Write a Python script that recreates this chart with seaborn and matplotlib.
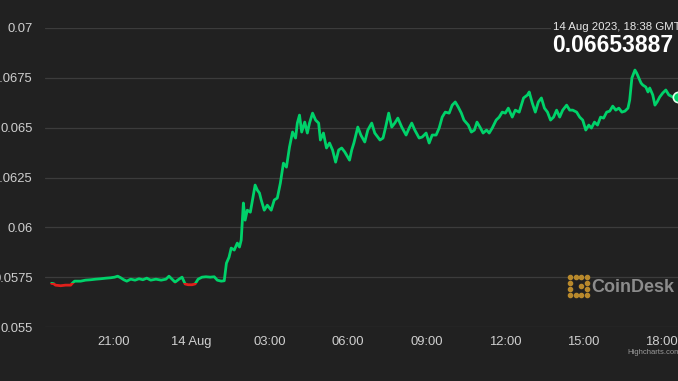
import numpy as np
import pandas as pd
import seaborn as sns
import matplotlib.pyplot as plt
import matplotlib.transforms as mtransforms
from matplotlib.patches import Rectangle

# minutes after 13 Aug 2023 18:38 (GMT+1) and price
minutes = [0, 5, 9, 21, 32, 44, 48, 53, 67, 78, 90, 102, 113, 125, 136, 145, 152, 159, 166, 173,
           182, 192, 201, 210, 219, 228, 240, 252, 263, 270, 277, 284, 293, 300, 307, 314, 323, 330,
           337, 346, 355, 365, 374, 381, 390, 397, 402, 408, 413, 420, 427, 432, 436, 441, 445, 450,
           457, 464, 468, 473, 478, 482, 489, 496, 505, 512, 519, 526, 533, 540, 547, 554, 561, 565,
           570, 575, 582, 588, 593, 600, 607, 614, 618, 625, 632, 639, 646, 653, 660, 667, 674, 685,
           690, 695, 704, 711, 720, 727, 736, 743, 755, 762, 768, 775, 782, 789, 796, 805, 815, 822,
           828, 835, 845, 852, 861, 868, 875, 884, 891, 898, 905, 914, 921, 928, 935, 942, 948, 958,
           965, 972, 978, 986, 992, 1000, 1006, 1013, 1022, 1029, 1036, 1043, 1050, 1059, 1066, 1075,
           1085, 1094, 1098, 1105, 1112, 1119, 1126, 1133, 1140, 1147, 1154, 1161, 1168, 1175, 1184,
           1191, 1198, 1207, 1214, 1221, 1228, 1235, 1241, 1248, 1255, 1262, 1269, 1276, 1283, 1290,
           1297, 1304, 1311, 1318, 1325, 1329, 1334, 1341, 1345, 1350, 1355, 1359, 1366, 1371, 1375,
           1382, 1387, 1392, 1398, 1405, 1412, 1419, 1428, 1440]
price = [0.05719, 0.05717, 0.05710, 0.05707, 0.05710, 0.05710, 0.05720, 0.05730, 0.05730, 0.05735,
         0.05737, 0.05740, 0.05742, 0.05745, 0.05747, 0.05750, 0.05755, 0.05747, 0.05737, 0.05730,
         0.05740, 0.05735, 0.05742, 0.05737, 0.05745, 0.05735, 0.05740, 0.05735, 0.05740, 0.05755,
         0.05740, 0.05725, 0.05740, 0.05750, 0.05716, 0.05712, 0.05712, 0.05716, 0.05740, 0.05750,
         0.05752, 0.05750, 0.05752, 0.05735, 0.05730, 0.05732, 0.05820, 0.05850, 0.05896, 0.05886,
         0.05921, 0.05901, 0.05936, 0.06122, 0.06036, 0.06086, 0.06076, 0.06162, 0.06212, 0.06187,
         0.06172, 0.06137, 0.06086, 0.06111, 0.06086, 0.06137, 0.06147, 0.06222, 0.06322, 0.06302,
         0.06403, 0.06478, 0.06448, 0.06523, 0.06563, 0.06478, 0.06528, 0.06473, 0.06523, 0.06573,
         0.06538, 0.06523, 0.06438, 0.06473, 0.06398, 0.06423, 0.06388, 0.06327, 0.06388, 0.06398,
         0.06378, 0.06337, 0.06388, 0.06423, 0.06503, 0.06463, 0.06428, 0.06488, 0.06523, 0.06473,
         0.06438, 0.06448, 0.06503, 0.06573, 0.06503, 0.06523, 0.06548, 0.06503, 0.06463, 0.06498,
         0.06523, 0.06488, 0.06448, 0.06453, 0.06473, 0.06423, 0.06463, 0.06463, 0.06498, 0.06553,
         0.06578, 0.06573, 0.06613, 0.06629, 0.06603, 0.06573, 0.06538, 0.06513, 0.06478, 0.06488,
         0.06528, 0.06498, 0.06473, 0.06488, 0.06473, 0.06498, 0.06538, 0.06553, 0.06578, 0.06573,
         0.06598, 0.06553, 0.06588, 0.06578, 0.06649, 0.06664, 0.06679, 0.06624, 0.06578, 0.06629,
         0.06649, 0.06598, 0.06578, 0.06538, 0.06553, 0.06588, 0.06553, 0.06588, 0.06613, 0.06588,
         0.06588, 0.06578, 0.06553, 0.06538, 0.06488, 0.06513, 0.06498, 0.06528, 0.06513, 0.06553,
         0.06548, 0.06578, 0.06583, 0.06608, 0.06588, 0.06598, 0.06578, 0.06583, 0.06598, 0.06639,
         0.06749, 0.06789, 0.06774, 0.06749, 0.06724, 0.06714, 0.06704, 0.06679, 0.06699, 0.06664,
         0.06613, 0.06629, 0.06654, 0.06674, 0.06689, 0.06664, 0.06654, 0.06653887]

start = pd.Timestamp("2023-08-13 18:38")
tick_times = ["2023-08-13 21:00", "2023-08-14 00:00", "2023-08-14 03:00", "2023-08-14 06:00",
              "2023-08-14 09:00", "2023-08-14 12:00", "2023-08-14 15:00", "2023-08-14 18:00"]
tick_labels = ["21:00", "14 Aug", "03:00", "06:00", "09:00", "12:00", "15:00", "18:00"]
y_ticks = [0.055, 0.0575, 0.06, 0.0625, 0.065, 0.0675, 0.07]

df = pd.DataFrame({"time": start + pd.to_timedelta(minutes, unit="m"), "price": price})

bg = "#212121"
green = "#00d26a"
red = "#e0201b"

sns.set_style("dark")
plt.rcParams["font.family"] = ["Liberation Sans", "DejaVu Sans"]

fig = plt.figure(figsize=(6.78, 3.81), dpi=100, facecolor=bg)
ax = fig.add_axes([45 / 678, 54 / 381, 633 / 678, 299 / 381])
ax.set_facecolor(bg)

threshold = price[0]
blend = mtransforms.blended_transform_factory(ax.transAxes, ax.transData)

# green above the opening price, red below it
sns.lineplot(data=df, x="time", y="price", ax=ax, color=green, lw=2.0)
ln = ax.lines[-1]
ln.set_clip_path(Rectangle((0, threshold), 1, 1, transform=blend))
sns.lineplot(data=df, x="time", y="price", ax=ax, color=red, lw=2.0)
ln = ax.lines[-1]
ln.set_clip_path(Rectangle((0, threshold - 1), 1, 1, transform=blend))

# last point marker
ax.scatter([df["time"].iloc[-1]], [price[-1]], s=55, facecolor=green, edgecolor="#dfffe9",
           linewidth=1.2, zorder=5, clip_on=False)

ax.set_ylim(0.055, 0.07)
ax.set_xlim(start - pd.Timedelta(minutes=15), start + pd.Timedelta(minutes=1440))
ax.set_yticks(y_ticks)
ax.set_yticklabels([f"{v:g}" for v in y_ticks])
ax.set_xticks(pd.to_datetime(tick_times))
ax.set_xticklabels(tick_labels)
ax.tick_params(axis="both", length=0, colors="#cfcfcf", labelsize=9.4)
ax.tick_params(axis="y", pad=9)
ax.tick_params(axis="x", pad=6.5)
ax.grid(axis="y", color="#3c3c3c", lw=0.9)
ax.grid(axis="x", visible=False)
for s in ax.spines.values():
    s.set_visible(False)
ax.set_xlabel("")
ax.set_ylabel("")

# header with last value
fig.text(553 / 678, 1 - 27 / 381, "14 Aug 2023, 18:38 GMT+1", color="#e8e8e8", fontsize=8.2,
         va="center", ha="left", bbox=dict(facecolor=bg, edgecolor="none", pad=1.5))
fig.text(552 / 678, 1 - 46 / 381, f"{price[-1]:.8f}", color="white", fontsize=16.5,
         fontweight="bold", va="center", ha="left")

# CoinDesk watermark
icon = [(0, 0), (0, 1), (0, 2), (0, 3), (1, 3), (2, 3), (3, 3), (1, 0), (2, 0), (3, 0),
        (2, 1.5), (3, 2), (3, 1)]
ix = [570 / 678 + c * 5.5 / 678 for c, r in icon]
iy = [1 - 295 / 381 + r * 6 / 381 for c, r in icon]
fig.add_artist(plt.Line2D(ix, iy, ls="none", marker="o", ms=3.0, color="#b8892c",
                          transform=fig.transFigure))
fig.text(591 / 678, 1 - 288 / 381, "CoinDesk", color="#8c8c8c", fontsize=13,
         fontweight="bold", va="center", ha="left")
fig.text(627 / 678, 1 - 353 / 381, "Highcharts.com", color="#9a9a9a", fontsize=5.5,
         va="center", ha="left")

fig.savefig("out.png", dpi=100, facecolor=bg)
